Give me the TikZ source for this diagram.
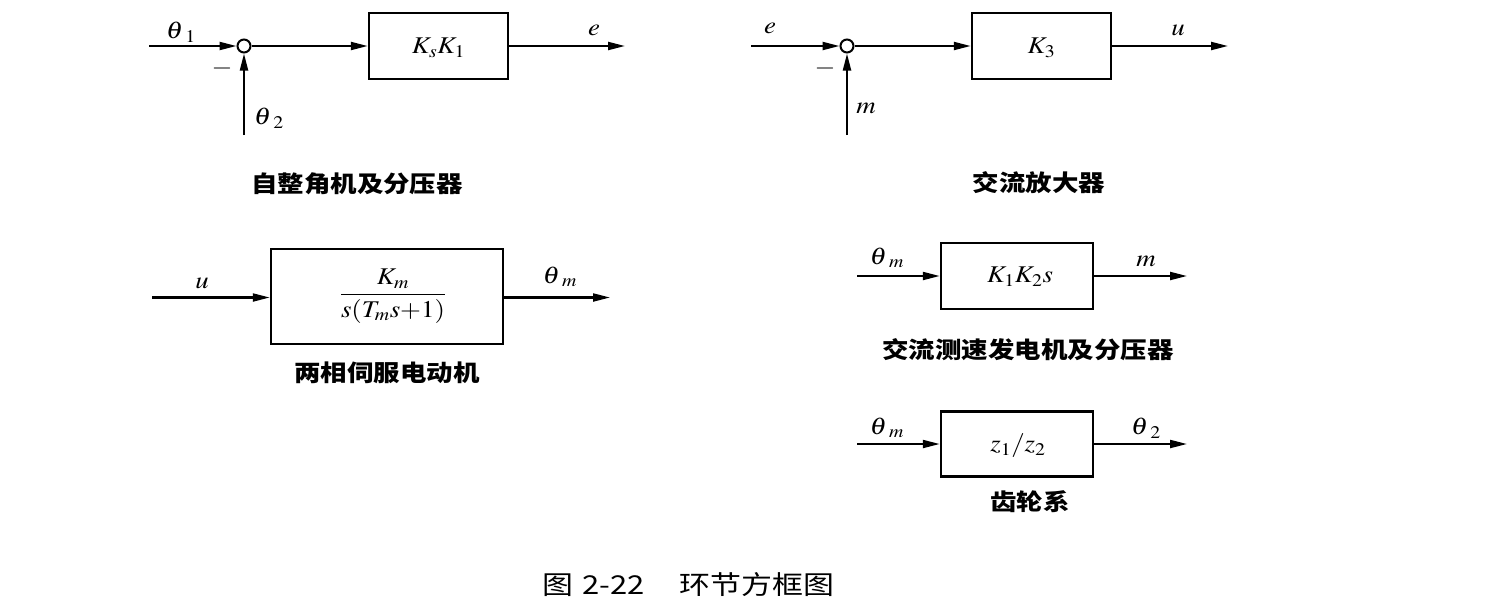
\documentclass[tikz,border=0pt]{standalone}
\usepackage{amsmath}
\usepackage{mathptmx}
\usepackage{fontspec}
\setmainfont{Liberation Serif}
\newfontfamily\cjk{Noto Sans CJK SC}
\usetikzlibrary{arrows.meta}
\newcommand{\thsub}[1]{\theta\mkern1.5mu_{#1}}
\begin{document}
\begin{tikzpicture}[x=1pt,y=-1pt,
  blk/.style={draw,line width=2.5pt,rectangle,inner sep=0pt},
  sumj/.style={draw,line width=2pt,circle,minimum size=13pt,inner sep=0pt},
  sig/.style={line width=2.1pt,-{Triangle[length=17pt,width=8pt]}},
  lbl/.style={inner sep=0pt,xscale=1.12,font=\fontsize{24}{28}\selectfont},
  captxt/.style={inner sep=0pt,xscale=1.15,font=\cjk\bfseries\fontsize{23}{27}\selectfont},
  figtxt/.style={inner sep=0pt,xscale=1.19,anchor=west,font=\cjk\fontsize{26}{30}\selectfont}]
\useasboundingbox[fill=white] (0,0) rectangle (1498,614);

% --- block 1: synchro and potentiometer
\node[sumj] (s1) at (244,46) {};
\node[blk,minimum width=139pt,minimum height=66pt] (b1) at (438.5,46) {};
\node[lbl] (b1t) at (438.5,48) {$K_sK_1$};
\coordinate (i1) at (149,46);
\coordinate (v1) at (244,135);
\coordinate (o1) at (625,46);
\draw[sig] (i1) -- (s1);
\draw[sig] (v1) -- (s1);
\draw[sig] (s1) -- (b1);
\draw[sig] (b1) -- (o1);
\node[lbl] (l11) at (181,32) {$\thsub{1}$};
\node[lbl] (l12) at (222,68) {$-$};
\node[lbl] (l13) at (269,118) {$\thsub{2}$};
\node[lbl] (l14) at (594,30) {$e$};
\node[captxt] (c1) at (357,184) {自整角机及分压器};

% --- block 2: AC amplifier
\node[sumj] (s2) at (847,46) {};
\node[blk,minimum width=139pt,minimum height=66pt] (b2) at (1041.5,46) {};
\node[lbl] (b2t) at (1041.5,48) {$K_3$};
\coordinate (i2) at (751,46);
\coordinate (v2) at (847,135);
\coordinate (o2) at (1228,46);
\draw[sig] (i2) -- (s2);
\draw[sig] (v2) -- (s2);
\draw[sig] (s2) -- (b2);
\draw[sig] (b2) -- (o2);
\node[lbl] (l21) at (770,28) {$e$};
\node[lbl] (l22) at (825,68) {$-$};
\node[lbl] (l23) at (866,108) {$m$};
\node[lbl] (l24) at (1178,30) {$u$};
\node[captxt] (c2) at (1039,183) {交流放大器};

% --- block 3: two-phase servo motor
\node[blk,minimum width=232pt,minimum height=95pt] (b3) at (387,296.5) {};
\node[lbl] (b3t) at (393,296) {$\dfrac{\;K_m\;}{s(T_ms{+}1)}$};
\coordinate (i3) at (152,297.5);
\coordinate (o3) at (610,297.5);
\draw[sig] (i3) -- (b3.west |- i3);
\draw[sig] (b3.east |- o3) -- (o3);
\node[lbl] (l31) at (202,283) {$u$};
\node[lbl] (l32) at (560,277) {$\thsub{m}$};
\node[captxt] (c3) at (387,373) {两相伺服电动机};

% --- block 4: AC tachogenerator
\node[blk,minimum width=152pt,minimum height=66pt] (b4) at (1017,276) {};
\node[lbl] (b4t) at (1020,277) {$K_1K_2s$};
\coordinate (i4) at (857,276);
\coordinate (o4) at (1187,276);
\draw[sig] (i4) -- (b4);
\draw[sig] (b4) -- (o4);
\node[lbl] (l41) at (887,258) {$\thsub{m}$};
\node[lbl] (l42) at (1146,261) {$m$};
\node[captxt] (c4) at (1028,350) {交流测速发电机及分压器};

% --- block 5: gear train
\node[blk,minimum width=152pt,minimum height=65pt] (b5) at (1017,444) {};
\node[lbl] (b5t) at (1018,446) {$z_1/z_2$};
\coordinate (i5) at (857,444);
\coordinate (o5) at (1187,444);
\draw[sig] (i5) -- (b5);
\draw[sig] (b5) -- (o5);
\node[lbl] (l51) at (887,428) {$\thsub{m}$};
\node[lbl] (l52) at (1146,428) {$\thsub{2}$};
\node[captxt] (c5) at (1030,502) {齿轮系};

% --- figure caption
\node[figtxt] (f1) at (542,585) {图};
\node[figtxt] (f2) at (582,585) {2-22};
\node[figtxt] (f3) at (679,585) {环节方框图};
\end{tikzpicture}
\end{document}
